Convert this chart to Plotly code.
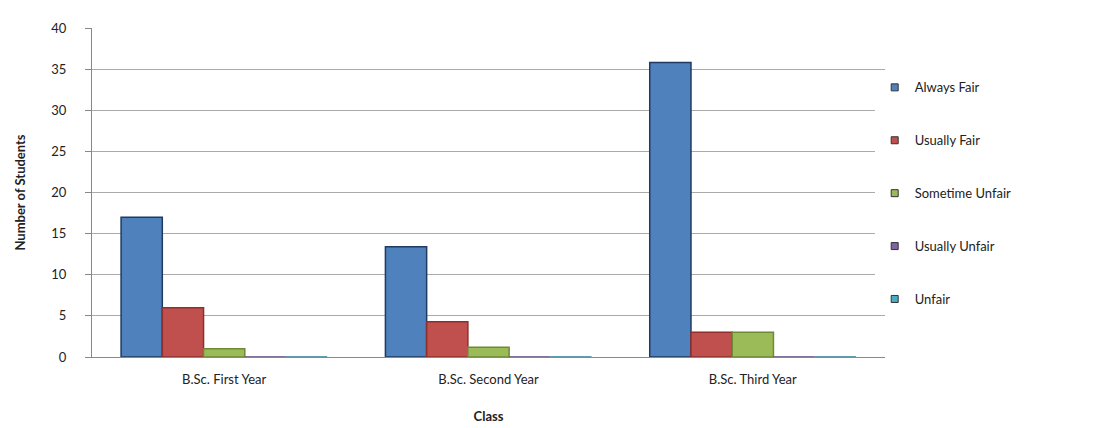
import plotly.graph_objects as go

classes = ["B.Sc. First Year", "B.Sc. Second Year", "B.Sc. Third Year"]
series_names = ["Always Fair", "Usually Fair", "Sometime Unfair", "Usually Unfair", "Unfair"]
always_fair = [17, 13.4, 35.8]
usually_fair = [6, 4.3, 3]
sometime_unfair = [1, 1.2, 3]
usually_unfair = [0, 0, 0]
unfair = [0, 0, 0]
y_ticks = [0, 5, 10, 15, 20, 25, 30, 35, 40]

values = [always_fair, usually_fair, sometime_unfair, usually_unfair, unfair]
colors = ["#4F81BD", "#C0504D", "#9BBB59", "#8064A2", "#4BACC6"]
borders = ["#1F3A63", "#8E2F2C", "#6E8A36", "#5B4578", "#2F7E94"]

fig = go.Figure()
for i, (name, vals) in enumerate(zip(series_names, values)):
    fig.add_trace(go.Bar(
        x=classes, y=vals, name=name,
        marker=dict(color=colors[i], line=dict(color=borders[i], width=1.5)),
        showlegend=False,
    ))
# legend entries with small square keys
for i, name in enumerate(series_names):
    fig.add_trace(go.Scatter(
        x=[None], y=[None], mode="markers", name=name,
        marker=dict(symbol="square", size=7, color=colors[i],
                    line=dict(color="#333333", width=1)),
        legendgroup=name,
    ))

fig.update_layout(
    width=1098, height=428,
    barmode="group", bargap=0.22, bargroupgap=0,
    plot_bgcolor="white", paper_bgcolor="white",
    margin=dict(l=84, r=221, t=14, b=79),
    font=dict(family="Lato", size=13, color="#222222"),
    legend=dict(x=0.987, y=0.865, xanchor="left", yanchor="top",
                tracegroupgap=33, font=dict(size=13, color="#222222"),
                itemwidth=30),
    showlegend=True,
)
fig.update_xaxes(
    title=dict(text="<b>Class</b>", font=dict(size=13), standoff=26),
    showline=True, linecolor="#888888", linewidth=1,
    ticks="", tickfont=dict(size=13), ticklabelstandoff=10,
)
fig.update_yaxes(
    title=dict(text="<b>Number of Students</b>", font=dict(size=13), standoff=22),
    range=[0, 40], tickvals=y_ticks,
    showgrid=True, gridcolor="#aaaaaa", gridwidth=1,
    showline=True, linecolor="#888888", linewidth=1,
    ticks="outside", ticklen=6, tickcolor="#888888",
    tickfont=dict(size=13), zeroline=False, ticklabelstandoff=16,
)
fig.write_html("out.html")
